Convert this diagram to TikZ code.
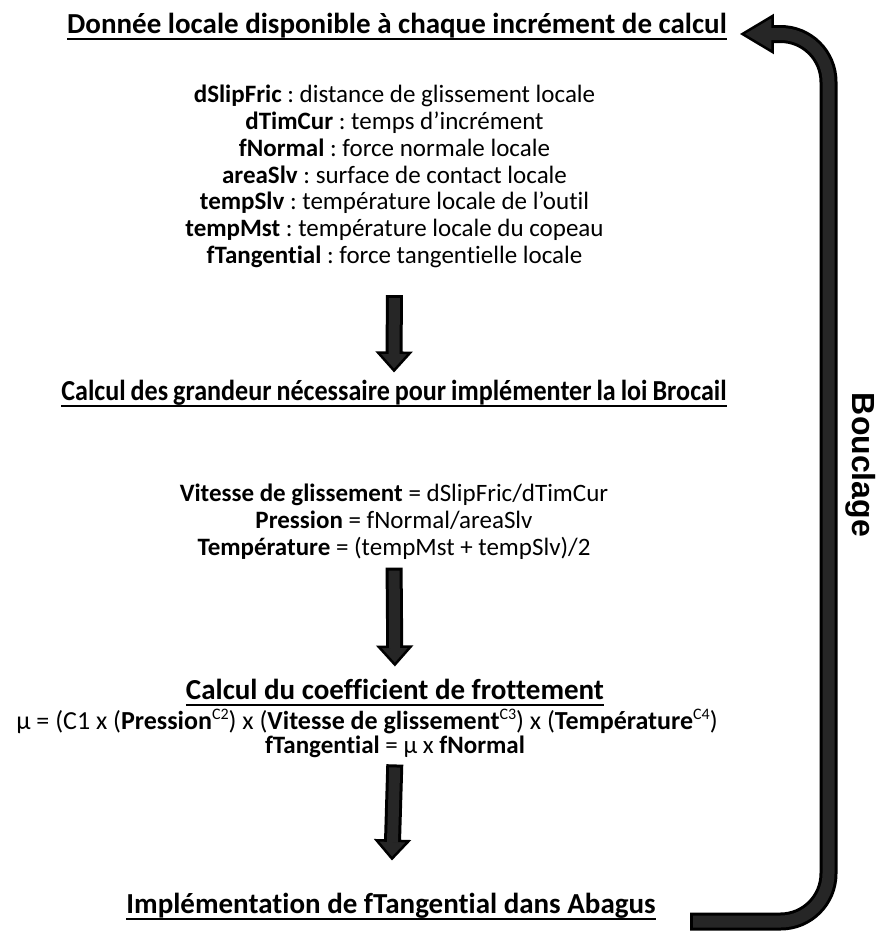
\documentclass[tikz,border=0pt]{standalone}
\usepackage{fontspec}
\setmainfont{Carlito}[Ligatures={NoCommon}]
\newfontfamily\titreserre{Carlito}[FakeStretch=0.9, Ligatures={NoCommon}]
\newfontfamily\bouclagefont{Liberation Sans}
\usetikzlibrary{arrows.meta,positioning}
\definecolor{flowgray}{HTML}{262626}
\frenchspacing
\newcommand\expo[1]{\raisebox{0.36em}{\fontsize{16}{16}\selectfont #1}}

\tikzset{
  titre/.style={inner sep=0pt, font=\fontsize{29}{34}\selectfont\bfseries},
  texte/.style={inner sep=0pt, align=center, font=\fontsize{25}{26.8}\selectfont},
  souligne/.style={line width=2.5pt},
  flow/.style={line width=17pt, draw=black,
    -{Triangle[length=21pt,width=37pt,line width=2.5pt,fill=flowgray]}},
  flowcore/.style={line width=11pt, draw=flowgray},
  boucle/.style={line width=18pt, draw=black, rounded corners=48pt,
    -{Triangle[length=34pt,width=40pt,line width=2.5pt,fill=flowgray]}},
  bouclecore/.style={line width=12pt, draw=flowgray, rounded corners=48pt,
    shorten <=3pt, shorten >=31pt},
}

\begin{document}
\begin{tikzpicture}[x=1pt, y=1pt]
  \useasboundingbox (0,0) rectangle (879,-932);

  % titres
  \node[titre, anchor=base] (t1) at (397,-33) {Donnée locale disponible à chaque incrément de calcul};
  \node[titre, font=\fontsize{29}{34}\selectfont\titreserre\bfseries, anchor=base] (t2) at (394,-400)
    {\spaceskip=0.17em Calcul des grandeur nécessaire pour implémenter la loi Brocail};
  \node[titre, anchor=base] (t3) at (395,-699) {Calcul du coefficient de frottement};
  \node[titre, anchor=base] (t4) at (391,-913) {Implémentation de fTangential dans Abagus};
  \foreach \t in {t1,t2,t3,t4}
    \draw[souligne] ([yshift=-6pt]\t.base west) -- ([yshift=-6pt]\t.base east);

  % textes
  \node[texte, anchor=north] (donnees) at (394.5,-85) {%
    \textbf{dSlipFric} : distance de glissement locale\\
    \textbf{dTimCur} : temps d’incrément\\
    \textbf{fNormal} : force normale locale\\
    \textbf{areaSlv} : surface de contact locale\\
    \textbf{tempSlv} : température locale de l’outil\\
    \textbf{tempMst} : température locale du copeau\\
    \textbf{fTangential} : force tangentielle locale};
  \node[texte, anchor=north] (grandeurs) at (394,-484) {%
    \textbf{Vitesse de glissement} = dSlipFric/dTimCur\\
    \textbf{Pression} = fNormal/areaSlv\\
    \textbf{Température} = (tempMst + tempSlv)/2};
  \node[texte, font=\fontsize{26}{28}\selectfont, anchor=base] (mu) at (367,-729)
    {µ = (C1 x (\textbf{Pression}\expo{C2}) x (\textbf{Vitesse de glissement}\expo{C3}) x (\textbf{Température}\expo{C4})};
  \node[texte, anchor=base] (ftang) at (395,-753) {\textbf{fTangential} = µ x \textbf{fNormal}};

  \node[font=\fontsize{32}{36}\selectfont\bouclagefont\bfseries, rotate=-90, anchor=base, inner sep=0pt]
    (bouclage) at (852,-465) {Bouclage};

  % fleches
  \draw[flow, shorten <=27pt, shorten >=7pt] (donnees.south) -- (t2.north);
  \draw[flowcore, shorten <=30pt, shorten >=25pt] (donnees.south) -- (t2.north);
  \draw[flow, shorten <=8pt, shorten >=12pt] (grandeurs.south) -- (t3.north);
  \draw[flowcore, shorten <=11pt, shorten >=30pt] (grandeurs.south) -- (t3.north);
  \draw[flow, shorten <=7pt, shorten >=32pt] (ftang.south) -- (t4.north);
  \draw[flowcore, shorten <=10pt, shorten >=50pt] (ftang.south) -- (t4.north);

  % bouclage
  \coordinate (retour) at (690,-921.5);
  \coordinate (coin) at (828.5,-34);
  \draw[boucle] (retour) -| (coin) -- ([xshift=13pt]t1.east |- coin);
  \draw[bouclecore] (retour) -| (coin) -- ([xshift=13pt]t1.east |- coin);
\end{tikzpicture}
\end{document}
